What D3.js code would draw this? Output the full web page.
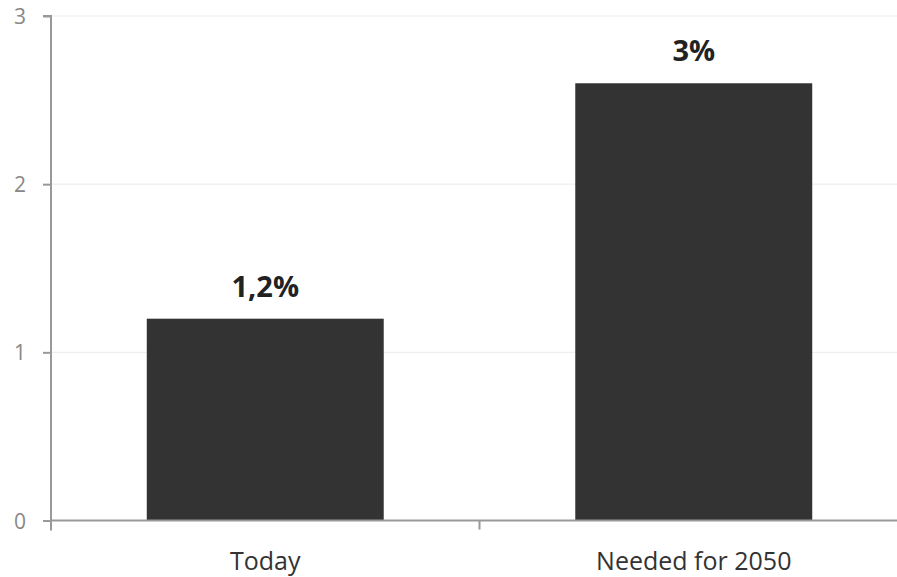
<!DOCTYPE html>
<html>
<head>
<meta charset="utf-8">
<script src="https://cdn.jsdelivr.net/npm/d3@7"></script>
<style>
  body { margin: 0; background: #fff; }
  text { font-family: "Open Sans", sans-serif; }
</style>
</head>
<body>
<div id="chart"></div>
<script>
// data
var categories = ["Today", "Needed for 2050"];
var values = [1.2, 2.6];
var valueLabels = ["1,2%", "3%"];
var yTicks = [0, 1, 2, 3];

function init()
{
  var w = 897;
  var h = 577;

  var x = d3.scaleBand()
            .domain(categories)
            .range([51, 908])
            .padding(0);

  var y = d3.scaleLinear()
            .domain([0, 3])
            .range([520.5, 16]);

  var barFrac = 0.553;

  var svg = d3.select("#chart")
              .append("svg")
              .attr("width", w)
              .attr("height", h);

  // gridlines
  svg.selectAll("line.grid")
     .data(yTicks.slice(1))
     .enter()
     .append("line")
     .attr("class", "grid")
     .attr("x1", 51)
     .attr("x2", w)
     .attr("y1", function(d){ return y(d); })
     .attr("y2", function(d){ return y(d); })
     .attr("stroke", "#ebebeb")
     .attr("stroke-width", 1);

  // bars
  svg.selectAll("rect")
     .data(values)
     .enter()
     .append("rect")
     .attr("x", function(d, i){
        return x(categories[i]) + x.bandwidth() * (1 - barFrac) / 2;
     })
     .attr("width", x.bandwidth() * barFrac)
     .attr("y", function(d){ return y(d); })
     .attr("height", function(d){ return y(0) - y(d); })
     .attr("fill", "#333333");

  // bar labels
  svg.selectAll("text.val")
     .data(values)
     .enter()
     .append("text")
     .attr("class", "val")
     .attr("x", function(d, i){ return x(categories[i]) + x.bandwidth() / 2; })
     .attr("y", function(d){ return y(d) - 22; })
     .attr("text-anchor", "middle")
     .style("font-size", "29px")
     .style("font-weight", "bold")
     .attr("fill", "#222")
     .text(function(d, i){ return valueLabels[i]; });

  // y axis
  var yAxis = svg.append("g")
     .attr("transform", "translate(51,0)")
     .call(d3.axisLeft(y).tickValues(yTicks).tickSize(8).tickFormat(d3.format("d")));
  yAxis.select(".domain").attr("stroke", "#999").attr("stroke-width", 2)
     .attr("d", "M0," + (y(0) + 10) + "V" + y(3) + "H-8");
  yAxis.selectAll(".tick line").attr("stroke", "#999").attr("stroke-width", 2);
  yAxis.selectAll(".tick text")
     .attr("fill", "#888")
     .style("font-size", "21px")
     .attr("text-anchor", "middle")
     .attr("x", -31)
     .attr("dy", "0.36em");

  // x axis
  var xAxis = svg.append("g")
     .attr("transform", "translate(0," + y(0) + ")")
     .call(d3.axisBottom(x).tickSize(0));
  xAxis.select(".domain").attr("stroke", "#999").attr("stroke-width", 2)
     .attr("d", "M51,0H" + w);
  xAxis.selectAll(".tick text")
     .attr("fill", "#333")
     .style("font-size", "25px")
     .attr("y", 49.5)
     .attr("dy", "0");

  // category separator tick
  svg.append("line")
     .attr("x1", x(categories[1]))
     .attr("x2", x(categories[1]))
     .attr("y1", y(0))
     .attr("y2", y(0) + 9)
     .attr("stroke", "#999")
     .attr("stroke-width", 2);
}

window.onload = init;
</script>
</body>
</html>
